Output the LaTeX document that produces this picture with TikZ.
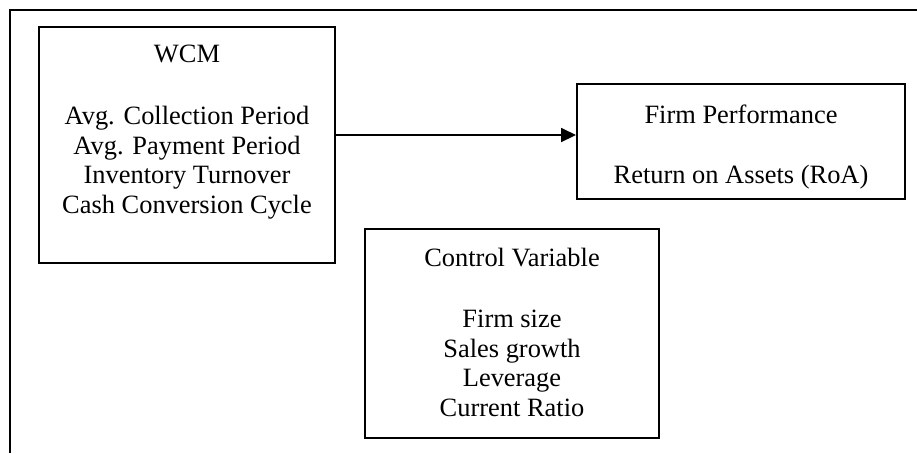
\documentclass[tikz,border=0pt]{standalone}
\usepackage{fontspec}
\setmainfont{Liberation Serif}
\usetikzlibrary{arrows.meta, positioning}

\begin{document}
\begin{tikzpicture}[
        x=0.0165cm, y=-0.0165cm,
        line width=0.9pt,
        % the three boxes of the model
        modelbox/.style={draw, rectangle, inner sep=0pt},
        boxtext/.style={align=center, inner sep=0pt,
            font=\fontsize{12.4}{13.9}\selectfont}
    ]
    \useasboundingbox (0,0) rectangle (917,453);
    % outer frame, open at the right and at the bottom
    \coordinate (topleft) at (10,10);
    \coordinate (topright) at (917,10);
    \coordinate (bottomleft) at (10,453);
    \draw (topright) -- (topleft) -- (bottomleft);

    \node[modelbox, minimum width=4.884cm, minimum height=3.894cm] (wcm) at (187,145) {};
    \node[modelbox, minimum width=5.41cm, minimum height=1.9cm] (perf) at (741,141.5) {};
    \node[modelbox, minimum width=4.85cm, minimum height=3.45cm] (ctrl) at (512,333.5) {};

    \node[boxtext, below=0.29cm of wcm.north] (wcmtext) {WCM\\[15.5pt]
        Avg. Collection Period\\
        Avg. Payment Period\\
        Inventory Turnover\\
        Cash Conversion Cycle};
    \node[boxtext, below=0.34cm of perf.north] (perftext) {Firm Performance\\[14.5pt]
        Return on Assets (RoA)};
    \node[boxtext, below=0.31cm of ctrl.north] (ctrltext) {Control Variable\\[15pt]
        Firm size\\
        Sales growth\\
        Leverage\\
        Current Ratio};

    % WCM -> firm performance
    \coordinate (arrowlevel) at (0,135);
    \draw[-{Triangle[length=7pt, width=6.5pt]}] (wcm.east |- arrowlevel) -- (perf.west |- arrowlevel);
\end{tikzpicture}
\end{document}
